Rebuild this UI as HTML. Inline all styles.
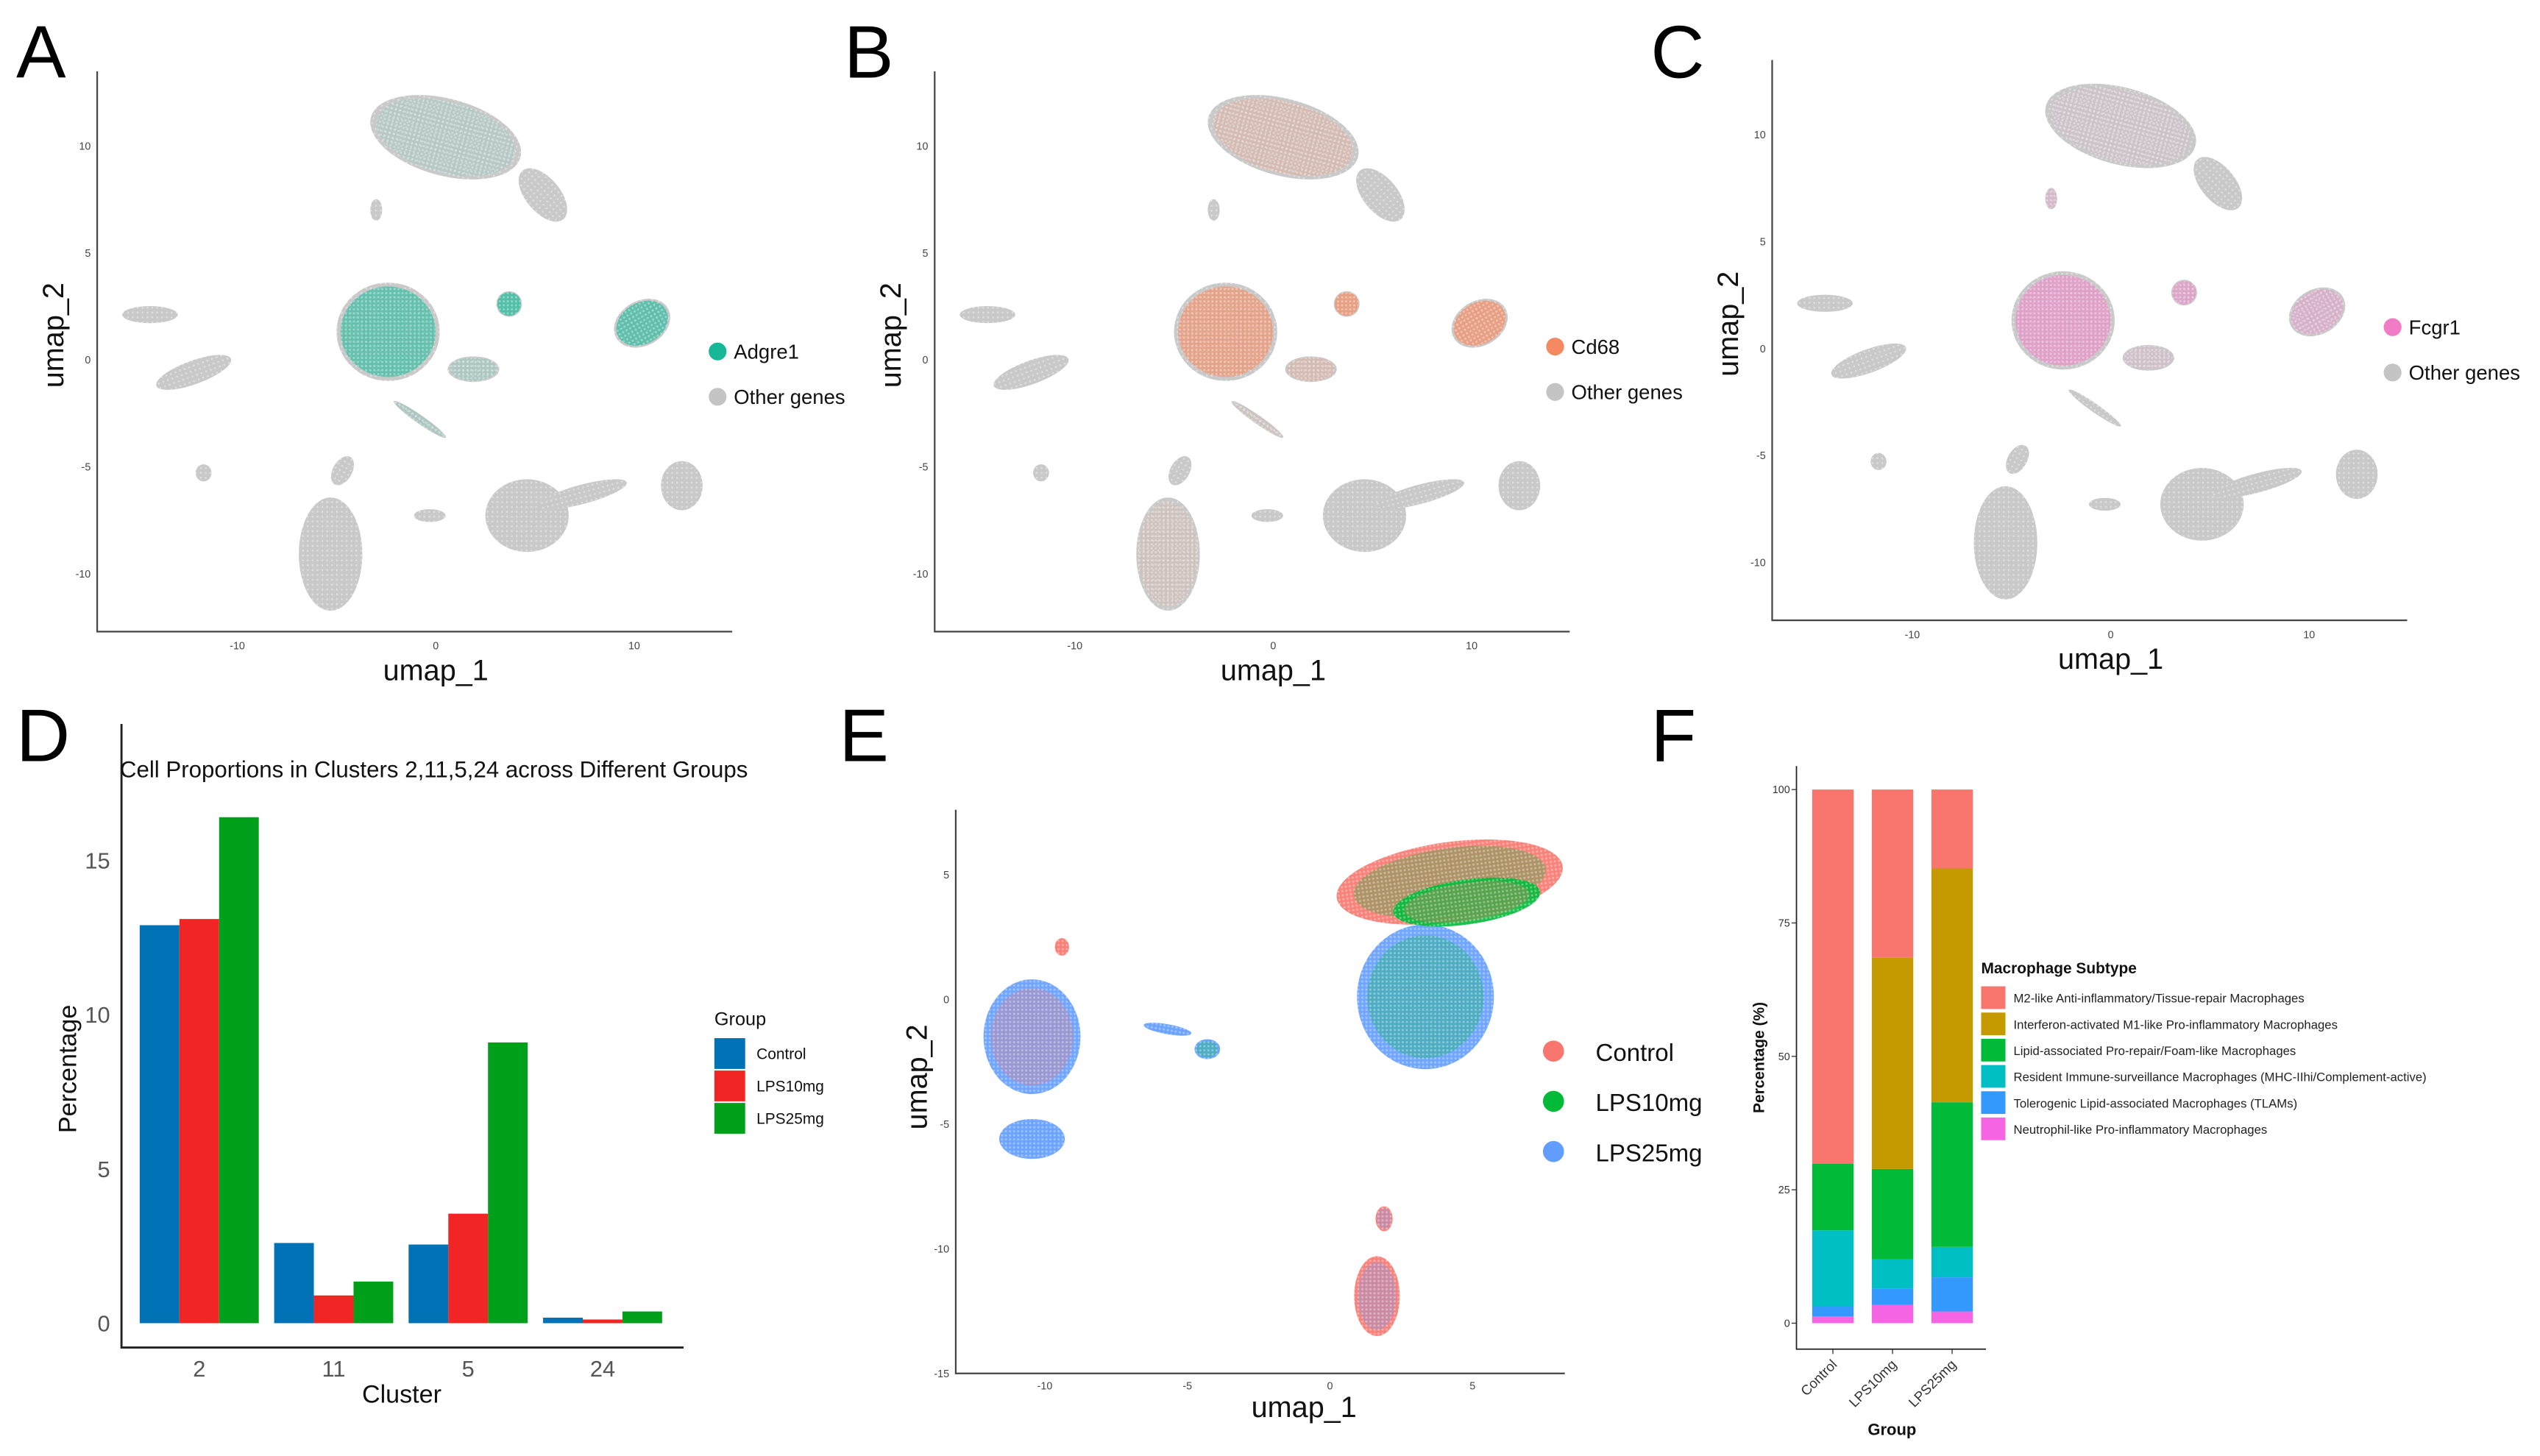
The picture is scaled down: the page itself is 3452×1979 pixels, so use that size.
<!DOCTYPE html>
<html><head><meta charset="utf-8"><style>
html,body{margin:0;padding:0;background:#fff;}
svg{display:block;font-family:"Liberation Sans",Arial,sans-serif;}
</style></head><body>
<svg id="fig" width="3452" height="1979" viewBox="0 0 1568 899" preserveAspectRatio="none" xmlns="http://www.w3.org/2000/svg">
<defs>
<pattern id="speck" width="3" height="3" patternUnits="userSpaceOnUse"><rect width="3" height="3" fill="#c9c9c9"/><circle cx="1" cy="1" r="0.6" fill="#dedede"/></pattern>
<pattern id="dots" width="2.5" height="2.5" patternUnits="userSpaceOnUse"><rect width="2.5" height="2.5" fill="none"/><circle cx="1" cy="1" r="0.7" fill="#fff" opacity="0.35"/></pattern>
</defs>
<g id="root"></g>
</svg>
<script>
// ---------- data ----------
const umapClusterU = [0.5, 5.4, -14.4, -12.2, -2.4, 1.9, 3.7, 10.4, -5.3, 4.6, 7.4, 12.4, -4.7, -11.7, -0.3, -3.0, -0.8];
const umapClusterV = [10.4, 7.7, 2.1, -0.6, 1.3, -0.45, 2.6, 1.7, -9.1, -7.3, -6.3, -5.9, -5.2, -5.3, -7.3, 7.0, -2.8];
const umapClusterRx = [3.9, 1.6, 1.4, 2.0, 2.6, 1.3, 0.65, 1.5, 1.6, 2.1, 2.3, 1.05, 0.8, 0.4, 0.8, 0.3, 1.6];
const umapClusterRy = [1.8, 0.8, 0.4, 0.55, 2.3, 0.6, 0.6, 1.05, 2.65, 1.7, 0.45, 1.15, 0.45, 0.4, 0.3, 0.5, 0.2];
const umapClusterRot = [15, 50, 0, -20, 0, 0, 0, -30, 0, 0, -15, 0, -60, 0, 0, 0, 35];
const adgre1Pos = [0.15, 0, 0, 0, 0.75, 0.2, 0.9, 0.8, 0, 0, 0, 0, 0, 0, 0, 0, 0.2];
const cd68Pos   = [0.3, 0, 0, 0, 0.8, 0.3, 0.9, 0.9, 0.15, 0, 0, 0, 0, 0, 0, 0, 0.1];
const fcgr1Pos  = [0.1, 0, 0, 0, 0.7, 0.15, 0.6, 0.4, 0, 0, 0, 0, 0, 0, 0, 0.3, 0];

const dClusters = ["2", "11", "5", "24"];
const dControl = [12.9, 2.6, 2.55, 0.18];
const dLPS10 = [13.1, 0.9, 3.55, 0.12];
const dLPS25 = [16.4, 1.35, 9.1, 0.38];
const dTicks = [0, 5, 10, 15];

const eU = [-10.45, -10.45, -9.4, -4.3, -5.7, 4.2, 3.35, 1.65, 1.9, 4.8];
const eV = [-1.5, -5.6, 2.1, -2.0, -1.2, 4.7, 0.1, -11.9, -8.8, 3.9];
const eRx = [1.7, 1.15, 0.25, 0.45, 0.85, 4.0, 2.4, 0.8, 0.3, 2.6];
const eRy = [2.3, 0.8, 0.35, 0.4, 0.2, 1.6, 2.9, 1.6, 0.5, 0.9];
const eRot = [0, 0, 0, 0, 10, -8, 0, 0, 0, -8];
const eGroup = [2, 2, 0, 2, 2, 0, 2, 0, 0, 1];
const eMix = [0, 2, 0, 1, 2, 1, 1, 2, 2, 0];
const eTicksX = [-10, -5, 0, 5];
const eTicksY = [5, 0, -5, -10, -15];

const fGroups = ["Control", "LPS10mg", "LPS25mg"];
const fNeutrophil = [1.3, 3.4, 2.2];
const fTLAM = [1.8, 3.1, 6.4];
const fResident = [14.3, 5.5, 5.7];
const fLipid = [12.5, 16.9, 27.1];
const fIFN = [0, 39.6, 43.8];
const fM2 = [70.1, 31.5, 14.8];
const fTicks = [0, 25, 50, 75, 100];
const fLegend = ["M2-like Anti-inflammatory/Tissue-repair Macrophages","Interferon-activated M1-like Pro-inflammatory Macrophages","Lipid-associated Pro-repair/Foam-like Macrophages","Resident Immune-surveillance Macrophages (MHC-IIhi/Complement-active)","Tolerogenic Lipid-associated Macrophages (TLAMs)","Neutrophil-like Pro-inflammatory Macrophages"];

const NS = "http://www.w3.org/2000/svg";
const root = document.getElementById("root");
function mk(tag, attrs, parent, text) {
  const e = document.createElementNS(NS, tag);
  for (const k in attrs) e.setAttribute(k, attrs[k]);
  if (text !== undefined) e.textContent = text;
  (parent || root).appendChild(e);
  return e;
}
function txt(x, y, s, size, opts, parent) {
  const a = Object.assign({x: x, y: y, "font-size": size, fill: "#111"}, opts || {});
  return mk("text", a, parent, s);
}

[["A",10,48],["B",521,48],["C",1019,48],["D",10,470],["E",518,470],["F",1019,470]].forEach(p => {
  const t = txt(p[1], p[2], p[0], 46, {fill: "#000"});
  
  
});

function umapPanel(id, x0, yZero, pos, color, gene, legY) {
  const g = mk("g", {});
  
  
  const ux = u => x0 + 209 + u * 12.25;
  const vy = v => yZero - v * 13.2;
  const axisBottom = yZero + 168;
  for (let i = 0; i < umapClusterU.length; i++) {
    const cx = ux(umapClusterU[i]), cy = vy(umapClusterV[i]);
    const tr = `rotate(${umapClusterRot[i]} ${cx} ${cy})`;
    const c = mk("ellipse", {cx: cx, cy: cy, rx: umapClusterRx[i] * 12.25, ry: umapClusterRy[i] * 13.2, fill: "url(#speck)", transform: tr}, g);
    
    
    const f = pos[i];
    if (f > 0) {
      const h = mk("ellipse", {cx: cx, cy: cy, rx: umapClusterRx[i] * 12.25 * 0.92, ry: umapClusterRy[i] * 13.2 * 0.92, fill: color, opacity: (0.75 * f).toFixed(2), transform: tr}, g);
      
      
      const d = mk("ellipse", {cx: cx, cy: cy, rx: umapClusterRx[i] * 12.25 * 0.92, ry: umapClusterRy[i] * 13.2 * 0.92, fill: "url(#dots)", transform: tr}, g);
      
      
    }
  }
  const ax = mk("path", {d: `M${x0} ${yZero - 178} V${axisBottom} H${x0 + 392}`, stroke: "#444", fill: "none", "stroke-width": 1}, g);
  
  
  [-10, 0, 10].forEach(t => { const e = txt(ux(t), axisBottom + 11, String(t), 6.5, {"text-anchor": "middle", fill: "#444"}, g);   });
  [10, 5, 0, -5, -10].forEach(t => { const e = txt(x0 - 4, vy(t) + 2.5, String(t), 6.5, {"text-anchor": "end", fill: "#444"}, g);   });
  const xl = txt(ux(0), axisBottom + 30, "umap_1", 18, {"text-anchor": "middle"}, g);
   
  const yl = txt(0, 0, "umap_2", 18, {"text-anchor": "middle", transform: `translate(${x0 - 21} ${yZero - 15}) rotate(-90)`}, g);
   
  const lx = x0 + 383;
  const d1 = mk("circle", {cx: lx, cy: legY, r: 5.5, fill: color}, g);
   
  const t1 = txt(lx + 10, legY + 4.5, gene, 12.5, {}, g);
   
  const d2 = mk("circle", {cx: lx, cy: legY + 28, r: 5.5, fill: "#c4c4c4"}, g);
   
  const t2 = txt(lx + 10, legY + 32.5, "Other genes", 12.5, {}, g);
   
}
umapPanel("a", 60, 222, adgre1Pos, "#17b897", "Adgre1", 217);
umapPanel("b", 577, 222, cd68Pos, "#f58a62", "Cd68", 214);
umapPanel("c", 1094, 215, fcgr1Pos, "#f27bc6", "Fcgr1", 202);

(function () {
  const g = mk("g", {});
  
  
  const x0 = 75, yBase = 817, perUnit = 19.05;
  const yS = v => yBase - v * perUnit;
  const centers = i => 123 + i * 83;
  const bw = 24.5;
  const series = [dControl, dLPS10, dLPS25];
  const cols = ["#0072b5", "#f22525", "#00a01a"];
  const names = ["control", "lps10mg", "lps25mg"];
  series.forEach((s, si) => s.forEach((v, i) => {
    const r = mk("rect", {x: centers(i) - 1.5 * bw + si * bw, y: yS(v), width: bw, height: v * perUnit, fill: cols[si]}, g);
    
    
  }));
  const ax = mk("path", {d: `M${x0} 447 V832 H422`, stroke: "#222", fill: "none", "stroke-width": 1.3}, g);
   
  dTicks.forEach(t => { const e = txt(68, yS(t) + 5, String(t), 14, {"text-anchor": "end", fill: "#555"}, g);   });
  dClusters.forEach((c, i) => { const e = txt(centers(i), 850, c, 14, {"text-anchor": "middle", fill: "#555"}, g);   });
  const ti = txt(74, 480, "Cell Proportions in Clusters 2,11,5,24 across Different Groups", 14.2, {}, g);
   
  const xl = txt(248, 866, "Cluster", 15.5, {"text-anchor": "middle"}, g);
   
  const yl = txt(0, 0, "Percentage", 15.5, {"text-anchor": "middle", transform: "translate(47 660) rotate(-90)"}, g);
   
  const lt = txt(441, 633, "Group", 11.5, {}, g);
   
  ["Control", "LPS10mg", "LPS25mg"].forEach((n, i) => {
    const b = mk("rect", {x: 441, y: 641 + i * 20, width: 19, height: 19, fill: cols[i]}, g);
     
    const t = txt(467, 654 + i * 20, n, 9.5, {}, g);
     
  });
})();

(function () {
  const g = mk("g", {});
  
  
  const ux = u => 821 + u * 17.6;
  const vy = v => 617 - v * 15.4;
  const cols = ["#f8766d", "#00ba38", "#619cff"];
  for (let i = 0; i < eU.length; i++) {
    const cx = ux(eU[i]), cy = vy(eV[i]);
    const tr = `rotate(${eRot[i]} ${cx} ${cy})`;
    const c = mk("ellipse", {cx: cx, cy: cy, rx: eRx[i] * 17.6, ry: eRy[i] * 15.4, fill: cols[eGroup[i]], opacity: 0.9, transform: tr}, g);
    
    
    const m = mk("ellipse", {cx: cx, cy: cy, rx: eRx[i] * 17.6 * 0.85, ry: eRy[i] * 15.4 * 0.85, fill: cols[eMix[i]], opacity: 0.3, transform: tr}, g);
    
    
    const d = mk("ellipse", {cx: cx, cy: cy, rx: eRx[i] * 17.6, ry: eRy[i] * 15.4, fill: "url(#dots)", transform: tr}, g);
    
    
  }
  const ax = mk("path", {d: "M590 500 V848 H966", stroke: "#444", fill: "none", "stroke-width": 1}, g);
   
  eTicksX.forEach(t => { const e = txt(ux(t), 858, String(t), 6.5, {"text-anchor": "middle", fill: "#444"}, g);   });
  eTicksY.forEach(t => { const e = txt(586, vy(t) + 2.5, String(t), 6.5, {"text-anchor": "end", fill: "#444"}, g);   });
  const xl = txt(805, 875, "umap_1", 18, {"text-anchor": "middle"}, g);
   
  const yl = txt(0, 0, "umap_2", 18, {"text-anchor": "middle", transform: "translate(572 665) rotate(-90)"}, g);
   
  ["Control", "LPS10mg", "LPS25mg"].forEach((n, i) => {
    const d = mk("circle", {cx: 959, cy: 649 + i * 31, r: 6.5, fill: cols[i]}, g);
     
    const t = txt(985, 655 + i * 31, n, 15, {}, g);
     
  });
})();

(function () {
  const g = mk("g", {});
  
  
  const yBase = 817, perUnit = 3.295;
  const yS = v => yBase - v * perUnit;
  const cx = i => 1131.5 + i * 36.8;
  const bw = 25.6;
  const stack = [fNeutrophil, fTLAM, fResident, fLipid, fIFN, fM2];
  const cols = ["#f564e3", "#3399ff", "#00bfc4", "#00ba38", "#c49a00", "#f8766d"];
  const names = ["neutrophil", "tlam", "resident", "lipid", "ifn", "m2"];
  fGroups.forEach((gname, i) => {
    let acc = 0;
    stack.forEach((s, k) => {
      const v = s[i];
      if (v > 0) {
        const r = mk("rect", {x: cx(i) - bw / 2, y: yS(acc + v), width: bw, height: v * perUnit, fill: cols[k]}, g);
        
        
      }
      acc += v;
    });
    const tk = mk("line", {x1: cx(i), x2: cx(i), y1: 833, y2: 836, stroke: "#333", "stroke-width": 0.6}, g);
     
    const t = txt(0, 0, gname, 8.5, {"text-anchor": "end", fill: "#333", transform: `translate(${cx(i) + 3} 843) rotate(-45)`}, g);
     
  });
  const ax = mk("path", {d: "M1109 473 V833 H1226", stroke: "#222", fill: "none", "stroke-width": 0.8}, g);
   
  fTicks.forEach(t => {
    const l = mk("line", {x1: 1106, x2: 1109, y1: yS(t), y2: yS(t), stroke: "#333", "stroke-width": 0.6}, g);
     
    const e = txt(1105, yS(t) + 2.3, String(t), 6.5, {"text-anchor": "end", fill: "#333"}, g);
     
  });
  const yl = txt(0, 0, "Percentage (%)", 9.5, {"text-anchor": "middle", "font-weight": "bold", transform: "translate(1089 653) rotate(-90)"}, g);
   
  const xl = txt(1168, 886, "Group", 10, {"text-anchor": "middle", "font-weight": "bold"}, g);
   
  const lt = txt(1223, 601, "Macrophage Subtype", 9.5, {"font-weight": "bold"}, g);
   
  const legCols = ["#f8766d", "#c49a00", "#00ba38", "#00bfc4", "#3399ff", "#f564e3"];
  fLegend.forEach((n, i) => {
    const yy = 609 + i * 16.2;
    const b = mk("rect", {x: 1223, y: yy, width: 15, height: 14, fill: legCols[i]}, g);
     
    const t = txt(1243, yy + 10, n, 7.6, {fill: "#222"}, g);
     
  });
})();
</script>
</body></html>
